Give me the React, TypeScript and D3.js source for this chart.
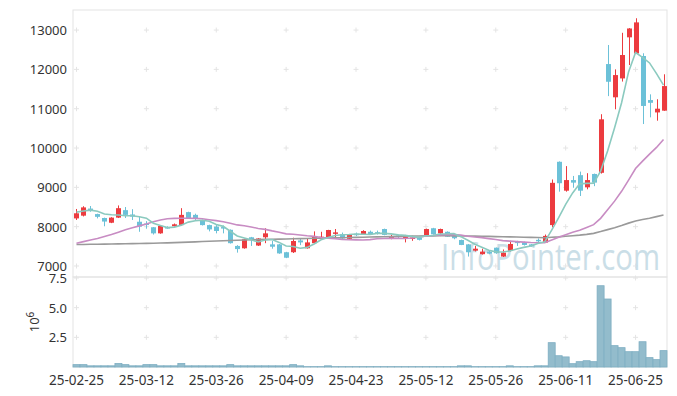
import React, { useRef, useEffect } from "react";
import * as d3 from "d3";

// trading days, 25-02-25 .. 25-07-01
const dates = [
  "25-02-25", "25-02-26", "25-02-27", "25-02-28",
  "25-03-04", "25-03-05", "25-03-06", "25-03-07", "25-03-10", "25-03-11", "25-03-12", "25-03-13", "25-03-14",
  "25-03-17", "25-03-18", "25-03-19", "25-03-20", "25-03-21", "25-03-24", "25-03-25", "25-03-26", "25-03-27",
  "25-03-28", "25-03-31",
  "25-04-01", "25-04-02", "25-04-03", "25-04-04", "25-04-07", "25-04-08", "25-04-09", "25-04-10", "25-04-11",
  "25-04-14", "25-04-15", "25-04-16", "25-04-17", "25-04-18", "25-04-21", "25-04-22", "25-04-23", "25-04-24",
  "25-04-25", "25-04-28", "25-04-29", "25-04-30",
  "25-05-02", "25-05-07", "25-05-08", "25-05-09", "25-05-12", "25-05-13", "25-05-14", "25-05-15", "25-05-16",
  "25-05-19", "25-05-20", "25-05-21", "25-05-22", "25-05-23", "25-05-26", "25-05-27", "25-05-28", "25-05-29",
  "25-05-30",
  "25-06-02", "25-06-04", "25-06-05", "25-06-09", "25-06-10", "25-06-11", "25-06-12", "25-06-13", "25-06-16",
  "25-06-17", "25-06-18", "25-06-19", "25-06-20", "25-06-23", "25-06-24", "25-06-25", "25-06-26", "25-06-27",
  "25-06-30",
  "25-07-01",
];

const opens = [
  8210, 8280, 8460, 8320, 8220, 8100, 8230, 8420, 8310, 8125,
  8080, 7985, 7830, 7990, 8010, 8040, 8370, 8300, 8170, 8040,
  8000, 7990, 7920, 7510, 7450, 7730, 7520, 7730, 7550, 7550,
  7350, 7350, 7650, 7450, 7580, 7720, 7720, 7830, 7810, 7690,
  7820, 7805, 7870, 7860, 7940, 7705, 7775, 7690, 7710, 7720,
  7770, 7960, 7830, 7870, 7770, 7660, 7550, 7390, 7300, 7365,
  7465, 7240, 7390, 7620, 7600, 7550, 7665, 7595, 8040, 9650,
  8915, 9185, 9310, 9000, 9340, 9370, 12135, 11290, 11770, 12815,
  12405, 12340, 11220, 10905, 10950,
];
const highs = [
  8450, 8520, 8525, 8330, 8230, 8240, 8540, 8500, 8445, 8250,
  8140, 7990, 8030, 8010, 8080, 8470, 8380, 8330, 8180, 8050,
  8040, 8030, 7930, 7530, 7690, 7740, 7710, 7960, 7640, 7560,
  7360, 7720, 7700, 7690, 7880, 7870, 7920, 7940, 7850, 7800,
  7850, 7910, 7900, 7900, 7950, 7790, 7800, 7790, 7770, 7740,
  7950, 7970, 7950, 7880, 7780, 7670, 7560, 7510, 7440, 7400,
  7470, 7420, 7640, 7640, 7620, 7560, 7700, 7800, 9200, 9660,
  9540, 9290, 9400, 9360, 9350, 10860, 12620, 12000, 12930, 13050,
  13300, 12410, 11365, 11240, 11875,
];
const lows = [
  8170, 8260, 8380, 8210, 8010, 8090, 8220, 8220, 8170, 7870,
  7950, 7800, 7820, 7950, 8000, 8020, 8200, 8170, 8030, 7880,
  7830, 7830, 7570, 7340, 7440, 7510, 7510, 7580, 7440, 7310,
  7200, 7330, 7530, 7440, 7570, 7700, 7710, 7720, 7690, 7680,
  7760, 7800, 7800, 7800, 7780, 7680, 7690, 7600, 7640, 7650,
  7760, 7800, 7760, 7740, 7680, 7530, 7240, 7370, 7290, 7300,
  7310, 7230, 7370, 7510, 7520, 7490, 7600, 7590, 7985, 8890,
  8890, 8990, 8780, 8950, 9030, 9350, 11320, 10985, 11690, 12110,
  12400, 10610, 10780, 10695, 10945,
];
const closes = [
  8340, 8490, 8410, 8250, 8130, 8230, 8470, 8300, 8255, 8000,
  8050, 7830, 8020, 7985, 8060, 8300, 8215, 8200, 8040, 7930,
  7890, 7980, 7580, 7430, 7680, 7660, 7700, 7830, 7490, 7320,
  7210, 7635, 7600, 7600, 7760, 7745, 7915, 7855, 7700, 7790,
  7805, 7890, 7810, 7850, 7790, 7745, 7765, 7745, 7725, 7665,
  7940, 7805, 7940, 7745, 7705, 7535, 7350, 7440, 7365, 7315,
  7325, 7340, 7560, 7610, 7535, 7500, 7655, 7765, 9115, 9105,
  9185, 9120, 8915, 9185, 9120, 10730, 11685, 11855, 12365, 13040,
  13195, 11070, 11150, 11000, 11575,
];
// volume, millions of shares
const volumes = [
  0.2, 0.2, 0.1, 0.1, 0.1, 0.1, 0.3, 0.2, 0.1, 0.1,
  0.2, 0.2, 0.1, 0.1, 0.1, 0.3, 0.1, 0.1, 0.1, 0.1,
  0.1, 0.1, 0.2, 0.1, 0.1, 0.1, 0.1, 0.1, 0.1, 0.1,
  0.1, 0.2, 0.1, 0.03, 0.03, 0.03, 0.1, 0.03, 0.03, 0.03,
  0.03, 0.03, 0.03, 0.03, 0.03, 0.03, 0.03, 0.03, 0.03, 0.03,
  0.03, 0.03, 0.03, 0.03, 0.03, 0.1, 0.1, 0.03, 0.03, 0.03,
  0.03, 0.03, 0.1, 0.03, 0.03, 0.03, 0.1, 0.1, 2.05, 0.95,
  0.85, 0.28, 0.45, 0.53, 0.45, 6.85, 5.73, 1.8, 1.63, 1.29,
  1.29, 2.13, 0.79, 0.62, 1.38,
];

// averages before the window is full
const ma5Head = [8370, 8400, 8420, 8390];
const ma20Head = [
  7577, 7620, 7660, 7700, 7750, 7800, 7860, 7920, 7970, 8020,
  8070, 8126, 8170, 8200, 8212, 8215, 8215, 8210, 8200,
];
const ma60 = [
  7545, 7548, 7551, 7554, 7557, 7560, 7563, 7566, 7569, 7572,
  7576, 7580, 7584, 7589, 7594, 7600, 7607, 7614, 7621, 7628,
  7635, 7642, 7649, 7655, 7661, 7666, 7671, 7676, 7680, 7684,
  7688, 7692, 7696, 7700, 7704, 7708, 7712, 7716, 7720, 7724,
  7728, 7732, 7736, 7740, 7744, 7748, 7752, 7756, 7760, 7763,
  7765, 7767, 7768, 7768, 7767, 7765, 7762, 7759, 7756, 7752,
  7748, 7744, 7740, 7736, 7732, 7728, 7724, 7720, 7730, 7740,
  7755, 7770, 7785, 7805, 7830, 7875, 7925, 7975, 8030, 8090,
  8145, 8180, 8215, 8255, 8295,
];

const priceTicks = [7000, 8000, 9000, 10000, 11000, 12000, 13000];
const volumeTicks = [2.5, 5.0, 7.5];

const UP = "#ec3b3f";
const DOWN = "#6cc1d8";

function movingAvg(head: number[], n: number) {
  return closes.map((_, i) =>
    i < n - 1 ? head[i] : d3.mean(closes.slice(i - n + 1, i + 1))!
  );
}

const App: React.FC = () => {
  const chartRef = useRef<SVGSVGElement | null>(null);

  useEffect(() => {
    if (!chartRef.current) return;
    document.body.style.margin = "0";

    const left = 73;
    const right = 667;
    const priceTop = 10;
    const priceBottom = 277;
    const volBottom = 367;

    const svg = d3.select(chartRef.current);
    svg.selectAll("*").remove();

    const xScale = d3
      .scaleBand<string>()
      .domain(dates)
      .range([left, right])
      .paddingInner(0.3)
      .paddingOuter(0.15);
    const cx = (d: string) => xScale(d)! + xScale.bandwidth() / 2;

    const yScale = d3
      .scaleLinear()
      .domain([6720, 13510])
      .range([priceBottom, priceTop]);
    const vScale = d3.scaleLinear().domain([0, 7.5]).range([volBottom, 278]);

    // frames
    svg
      .append("rect")
      .attr("x", left)
      .attr("y", priceTop)
      .attr("width", right - left)
      .attr("height", priceBottom - priceTop)
      .attr("fill", "none")
      .attr("stroke", "#e3e3e3");
    svg
      .append("rect")
      .attr("x", left)
      .attr("y", priceBottom)
      .attr("width", right - left)
      .attr("height", volBottom - priceBottom)
      .attr("fill", "none")
      .attr("stroke", "#e3e3e3");

    // grid crosses
    const xTickDates = dates.filter((_, i) => i % 10 === 0);
    const crossPts: [number, number][] = [];
    xTickDates.forEach((d) => {
      priceTicks.forEach((v) => crossPts.push([cx(d), yScale(v)]));
      volumeTicks.forEach((v) => crossPts.push([cx(d), vScale(v)]));
    });
    svg
      .append("g")
      .selectAll("path")
      .data(crossPts)
      .enter()
      .append("path")
      .attr("d", (p) => `M${p[0] - 2.5},${p[1]}H${p[0] + 2.5}M${p[0]},${p[1] - 2.5}V${p[1] + 2.5}`)
      .attr("stroke", "#e4e4e4")
      .attr("stroke-width", 1);

    // watermark
    svg
      .append("text")
      .attr("x", 441)
      .attr("y", 270)
      .attr("textLength", 219)
      .attr("lengthAdjust", "spacingAndGlyphs")
      .attr("font-size", 36)
      .attr("font-family", "'Open Sans', sans-serif")
      .attr("fill", "#cadee7")
      .text("InfoPointer.com");

    const idx = d3.range(dates.length);

    // candles
    const candles = svg.append("g");
    candles
      .selectAll("line")
      .data(idx)
      .enter()
      .append("line")
      .attr("x1", (i) => Math.round(cx(dates[i])) + 0.5)
      .attr("x2", (i) => Math.round(cx(dates[i])) + 0.5)
      .attr("y1", (i) => yScale(highs[i]))
      .attr("y2", (i) => yScale(lows[i]))
      .attr("stroke", (i) => (closes[i] >= opens[i] ? UP : DOWN))
      .attr("stroke-width", 1);
    candles
      .selectAll("rect")
      .data(idx)
      .enter()
      .append("rect")
      .attr("x", (i) => Math.round(cx(dates[i])) + 0.5 - 2.5)
      .attr("width", 5)
      .attr("y", (i) => yScale(Math.max(opens[i], closes[i])))
      .attr("height", (i) =>
        Math.max(1.5, Math.abs(yScale(opens[i]) - yScale(closes[i])))
      )
      .attr("fill", (i) => (closes[i] >= opens[i] ? UP : DOWN));

    // moving averages
    const ma5 = movingAvg(ma5Head, 5);
    const ma20 = movingAvg(ma20Head, 20);
    const line = d3
      .line<number>()
      .x((v, i) => cx(dates[i]))
      .y((v) => yScale(v));
    [
      { data: ma60, color: "#9a9a9a" },
      { data: ma20, color: "#c88cc3" },
      { data: ma5, color: "#8bcabf" },
    ].forEach((s) => {
      svg
        .append("path")
        .datum(s.data)
        .attr("fill", "none")
        .attr("stroke", s.color)
        .attr("stroke-width", 1.6)
        .attr("d", line);
    });

    // volume
    const step = xScale.step();
    svg
      .append("g")
      .selectAll("rect")
      .data(idx)
      .enter()
      .append("rect")
      .attr("x", (i) => cx(dates[i]) - step / 2)
      .attr("width", step)
      .attr("y", (i) => vScale(volumes[i]))
      .attr("height", (i) => vScale(0) - vScale(volumes[i]))
      .attr("fill", "#93bccc")
      .attr("stroke", "#7eaec2")
      .attr("stroke-width", 0.8);

    // axis labels
    const labels = svg
      .append("g")
      .attr("font-family", "'Noto Sans', sans-serif")
      .attr("fill", "#333");
    labels
      .selectAll("text.py")
      .data(priceTicks)
      .enter()
      .append("text")
      .attr("class", "py")
      .attr("x", 67)
      .attr("y", (v) => yScale(v) + 5)
      .attr("text-anchor", "end")
      .attr("font-size", 13)
      .text((v) => String(v));
    labels
      .selectAll("text.vy")
      .data(volumeTicks)
      .enter()
      .append("text")
      .attr("class", "vy")
      .attr("x", 67)
      .attr("y", (v) => vScale(v) + 5)
      .attr("text-anchor", "end")
      .attr("font-size", 13)
      .text((v) => v.toFixed(1));
    const unit = labels
      .append("text")
      .attr("transform", "translate(39,322) rotate(-90)")
      .attr("text-anchor", "middle")
      .attr("font-size", 13);
    unit.append("tspan").text("10");
    unit.append("tspan").attr("dy", -5).attr("font-size", 10).text("6");
    labels
      .selectAll("text.x")
      .data(xTickDates)
      .enter()
      .append("text")
      .attr("class", "x")
      .attr("x", (d) => cx(d))
      .attr("y", 385)
      .attr("text-anchor", "middle")
      .attr("font-size", 13.5)
      .text((d) => d);
  }, []);

  return (
    <svg
      ref={chartRef}
      width={677}
      height={396}
      style={{ display: "block", background: "#fff" }}
    ></svg>
  );
};

export default App;
